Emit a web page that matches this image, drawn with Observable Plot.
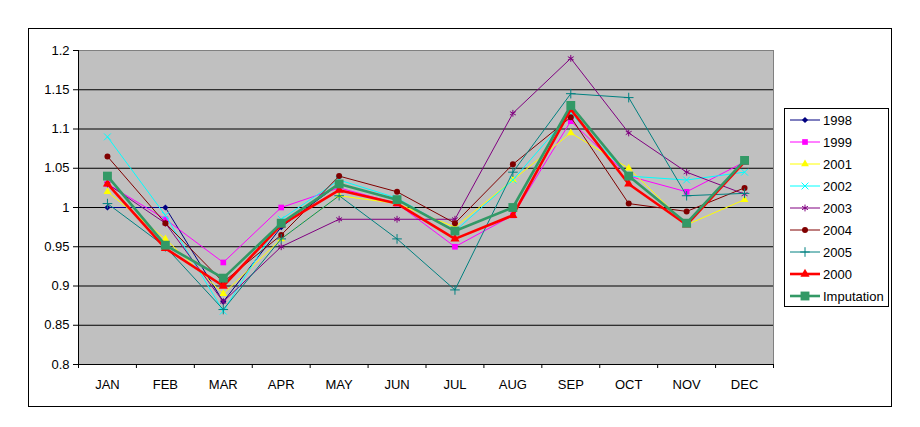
<!DOCTYPE html>
<html>
<head>
<meta charset="utf-8">
<script src="https://cdn.jsdelivr.net/npm/d3@7"></script>
<script src="https://cdn.jsdelivr.net/npm/@observablehq/plot@0.6"></script>
<style>
  html, body { margin: 0; padding: 0; background: #fff; }
  #wrap { position: relative; width: 920px; height: 427px; font-family: "Liberation Sans", Arial, sans-serif; }
  #border { position: absolute; left: 28px; top: 28px; width: 864px; height: 379px; border: 1px solid #000; box-sizing: border-box; }
  #chart { position: absolute; left: 0; top: 0; }
  #legend { position: absolute; left: 784px; top: 108px; width: 105px; height: 199px; border: 1px solid #000; box-sizing: border-box; background: #fff; padding-top: 0px; }
  .row { height: 22px; display: flex; align-items: center; font-size: 13px; color: #000; }
  .row svg { margin-left: 4px; margin-right: 2px; }
</style>
</head>
<body>
<div id="wrap">
  <div id="border"></div>
  <div id="chart"></div>
  <div id="legend"></div>
</div>
<script>
const months = ["JAN","FEB","MAR","APR","MAY","JUN","JUL","AUG","SEP","OCT","NOV","DEC"];
const yTicks = [0.8, 0.85, 0.9, 0.95, 1.0, 1.05, 1.1, 1.15, 1.2];

const s1998 = [1.0, 1.0, 0.88, 0.975, 1.03, 1.01, 0.97, 1.0, 1.13, 1.04, 0.98, 1.06];
const s1999 = [1.03, 0.985, 0.93, 1.0, 1.025, 1.005, 0.95, 0.99, 1.11, 1.04, 1.02, 1.058];
const s2001 = [1.02, 0.96, 0.89, 0.96, 1.015, 1.005, 0.975, 1.035, 1.095, 1.05, 0.978, 1.01];
const s2002 = [1.09, 0.99, 0.868, 0.985, 1.035, 1.012, 0.97, 1.035, 1.12, 1.04, 1.035, 1.045];
const s2003 = [1.03, 0.98, 0.88, 0.95, 0.985, 0.985, 0.985, 1.12, 1.19, 1.095, 1.045, 1.017];
const s2004 = [1.065, 0.98, 0.905, 0.965, 1.04, 1.02, 0.98, 1.055, 1.115, 1.005, 0.995, 1.025];
const s2005 = [1.005, 0.95, 0.87, 0.96, 1.015, 0.96, 0.895, 1.045, 1.145, 1.14, 1.015, 1.018];
const s2000 = [1.03, 0.948, 0.90, 0.978, 1.022, 1.005, 0.96, 0.99, 1.125, 1.03, 0.978, 1.058];
const sImputation = [1.04, 0.952, 0.91, 0.98, 1.03, 1.01, 0.97, 1.0, 1.13, 1.04, 0.98, 1.06];

const seriesNames = ["1998","1999","2001","2002","2003","2004","2005","2000","Imputation"];
const seriesValues = [s1998, s1999, s2001, s2002, s2003, s2004, s2005, s2000, sImputation];

// styles (separate from data)
const styles = {
  "1998":       {color: "#000080", symbol: "diamond2", filled: true,  r: 2.8, sw: 1},
  "1999":       {color: "#FF00FF", symbol: "square",   filled: true,  r: 3.2, sw: 1},
  "2001":       {color: "#FFFF00", symbol: "triangle", filled: true,  r: 2.9, sw: 1},
  "2002":       {color: "#00FFFF", symbol: "times",    filled: false, r: 3.2, sw: 1},
  "2003":       {color: "#800080", symbol: "asterisk", filled: false, r: 3.2, sw: 1},
  "2004":       {color: "#800000", symbol: "circle",   filled: true,  r: 3.0, sw: 1},
  "2005":       {color: "#008080", symbol: "plus",     filled: false, r: 3.2, sw: 1},
  "2000":       {color: "#FF0000", symbol: "triangle", filled: true,  r: 3.4, sw: 2.6},
  "Imputation": {color: "#339966", symbol: "square",   filled: true,  r: 5.0, sw: 2.6}
};

const rows = seriesNames.flatMap((name, k) => seriesValues[k].map((v, i) => ({series: name, i, v})));

const marks = [
  Plot.frame({fill: "#C0C0C0", stroke: "#808080"}),
  Plot.ruleY(yTicks.filter(t => t > 0.8 && t < 1.2), {stroke: "#000", strokeWidth: 1}),
  Plot.axisY({ticks: yTicks, tickFormat: d => String(+d.toFixed(2)), tickSize: 5, tickPadding: 4, fontSize: 13, label: null}),
  Plot.axisX({ticks: d3.range(13).map(k => k - 0.5), tickFormat: () => "", tickSize: 4, label: null}),
  Plot.axisX({ticks: d3.range(12), tickFormat: i => months[i], tickSize: 0, tickPadding: 15, fontSize: 13, label: null}),
  Plot.ruleX([-0.5], {stroke: "#000"}),
  Plot.ruleY([0.8], {stroke: "#000"})
];

for (const name of seriesNames) {
  const st = styles[name];
  const data = rows.filter(d => d.series === name);
  marks.push(Plot.line(data, {x: "i", y: "v", stroke: st.color, strokeWidth: st.sw}));
  marks.push(Plot.dot(data, st.filled
    ? {x: "i", y: "v", symbol: () => st.symbol, fill: st.color, stroke: "none", r: st.r}
    : {x: "i", y: "v", symbol: () => st.symbol, fill: "none", stroke: st.color, strokeWidth: 1, r: st.r}));
}

const chart = Plot.plot({
  width: 920,
  height: 427,
  marginLeft: 78,
  marginRight: 147,
  marginTop: 50,
  marginBottom: 63,
  style: {background: "transparent", fontFamily: "'Liberation Sans', Arial, sans-serif", fontSize: "13px", color: "#000"},
  x: {type: "linear", domain: [-0.5, 11.5], axis: null, label: null},
  y: {type: "linear", domain: [0.8, 1.2], axis: null, label: null},
  symbol: {type: "identity"},
  marks
});
document.getElementById("chart").appendChild(chart);

// legend
const symMap = {diamond2: d3.symbolDiamond2, square: d3.symbolSquare, triangle: d3.symbolTriangle,
  times: d3.symbolTimes, asterisk: d3.symbolAsterisk, circle: d3.symbolCircle, plus: d3.symbolPlus};
const legend = d3.select("#legend");
for (const name of seriesNames) {
  const st = styles[name];
  const row = legend.append("div").attr("class", "row");
  const svg = row.append("svg").attr("width", 32).attr("height", 14);
  svg.append("line").attr("x1", 1).attr("x2", 31).attr("y1", 7).attr("y2", 7)
    .attr("stroke", st.color).attr("stroke-width", st.sw);
  const path = d3.symbol(symMap[st.symbol], Math.PI * st.r * st.r)();
  const p = svg.append("path").attr("d", path).attr("transform", "translate(16,7)");
  if (st.filled) p.attr("fill", st.color); else p.attr("fill", "none").attr("stroke", st.color);
  row.append("span").text(name);
}
</script>
</body>
</html>
